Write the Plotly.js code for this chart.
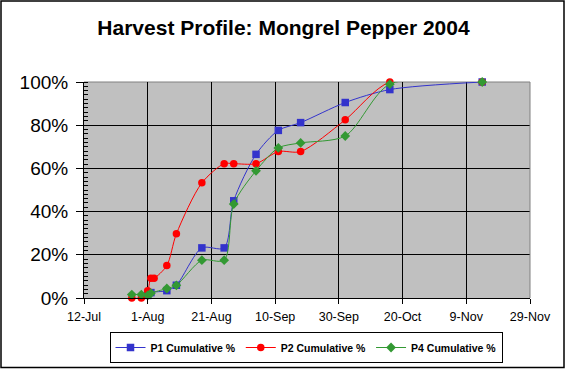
<!DOCTYPE html>
<html>
<head>
<meta charset="utf-8">
<script src="https://cdn.plot.ly/plotly-3.0.1.min.js"></script>
<style>
html,body{margin:0;padding:0;background:#fff;}
#chart{width:567px;height:369px;}
</style>
</head>
<body>
<div id="chart"></div>
<script>
// Data
const p1Dates = ["2004-08-01","2004-08-02","2004-08-07","2004-08-10","2004-08-18","2004-08-25","2004-08-28","2004-09-04","2004-09-11","2004-09-18","2004-10-02","2004-10-16","2004-11-14"];
const p1Values = [0.012,0.025,0.034,0.059,0.232,0.232,0.45,0.665,0.776,0.812,0.905,0.965,1.0];

const p2Dates = ["2004-07-27","2004-07-30","2004-08-01","2004-08-02","2004-08-03","2004-08-07","2004-08-10","2004-08-18","2004-08-25","2004-08-28","2004-09-04","2004-09-11","2004-09-18","2004-10-02","2004-10-16","2004-11-14"];
const p2Values = [0.0,0.0,0.034,0.092,0.092,0.15,0.297,0.533,0.622,0.622,0.622,0.678,0.678,0.825,1.0,1.0];

const p4Dates = ["2004-07-27","2004-07-30","2004-08-01","2004-08-02","2004-08-07","2004-08-10","2004-08-18","2004-08-25","2004-08-28","2004-09-04","2004-09-11","2004-09-18","2004-10-02","2004-10-16","2004-11-14"];
const p4Values = [0.016,0.016,0.012,0.022,0.044,0.059,0.175,0.175,0.435,0.589,0.695,0.718,0.75,0.99,1.0];

const seriesNames = ["P1 Cumulative %","P2 Cumulative %","P4 Cumulative %"];
const titleText = "Harvest Profile: Mongrel Pepper 2004";
const xRange = ["2004-07-12","2004-11-29"];
const yTickVals = [0,0.2,0.4,0.6,0.8,1.0];
const yTickText = ["0%","20%","40%","60%","80%","100%"];

const DAY = 86400000;
const colors = ["#3333CC","#FF0000","#339933"];
const symbols = ["square","circle","diamond"];
const xs = [p1Dates,p2Dates,p4Dates];
const ys = [p1Values,p2Values,p4Values];

const traces = seriesNames.map((n,i)=>({
  type:"scatter", mode:"lines+markers", name:n,
  x:xs[i], y:ys[i],
  line:{color:colors[i], width:1, shape:"spline", smoothing:0.8},
  marker:{color:colors[i], symbol:symbols[i], size:7.5, line:{width:0}},
  cliponaxis:false
}));

const pl=84, pr=530, pt=82, pb=298, W=567, H=369;
const pw=pr-pl, ph=pb-pt;
const px=(v)=>(v-pl)/pw, py=(v)=>(pb-v)/ph;
const FONT="Arial, Liberation Sans, sans-serif";

const layout = {
  width:W, height:H,
  margin:{l:pl, r:W-pr, t:pt, b:H-pb, pad:0, autoexpand:false},
  paper_bgcolor:"#FFFFFF",
  plot_bgcolor:"#C0C0C0",
  font:{family:FONT, color:"#000"},
  title:{text:titleText, font:{size:21, family:FONT, weight:"bold", color:"#000"}, x:0.5, xanchor:"center", y:1-28/H, yanchor:"middle"},
  showlegend:true,
  legend:{orientation:"h", xref:"container", yref:"container", x:306/W, xanchor:"center", y:(H-332)/H, yanchor:"top",
    bordercolor:"#000", borderwidth:1, bgcolor:"#FFF",
    font:{size:10.5, weight:"bold", family:FONT},
    itemwidth:30, tracegroupgap:0},
  xaxis:{type:"date", range:xRange, tick0:xRange[0], dtick:20*DAY, tickformat:"%-d-%b",
    showgrid:true, gridcolor:"#000", gridwidth:1, zeroline:false,
    showline:true, linecolor:"#000", linewidth:1,
    ticks:"outside", ticklen:5, tickcolor:"#000", ticklabelstandoff:2,
    tickfont:{size:12.5}, fixedrange:true},
  yaxis:{range:[0,1], tickvals:yTickVals, ticktext:yTickText,
    showgrid:true, gridcolor:"#000", gridwidth:1, zeroline:false,
    showline:true, linecolor:"#000", linewidth:1,
    ticks:"outside", ticklen:7, tickcolor:"#000", ticklabelstandoff:4,
    minor:{dtick:0.02, tick0:0, ticks:"inside", ticklen:4, tickcolor:"#000", showgrid:false},
    tickfont:{size:19}, fixedrange:true},
  shapes:[
    {type:"line", xref:"paper", yref:"paper", x0:0, x1:1, y0:1, y1:1, line:{color:"#808080", width:1}, layer:"below"},
    {type:"line", xref:"paper", yref:"paper", x0:1, x1:1, y0:0, y1:1, line:{color:"#808080", width:1}},
    {type:"rect", xref:"paper", yref:"paper", x0:px(1), x1:px(564), y0:py(367.5), y1:py(1), line:{color:"#000", width:1.5}, fillcolor:"rgba(0,0,0,0)", layer:"below"}
  ]
};

Plotly.newPlot("chart", traces, layout, {displayModeBar:false, staticPlot:true});
</script>
</body>
</html>
